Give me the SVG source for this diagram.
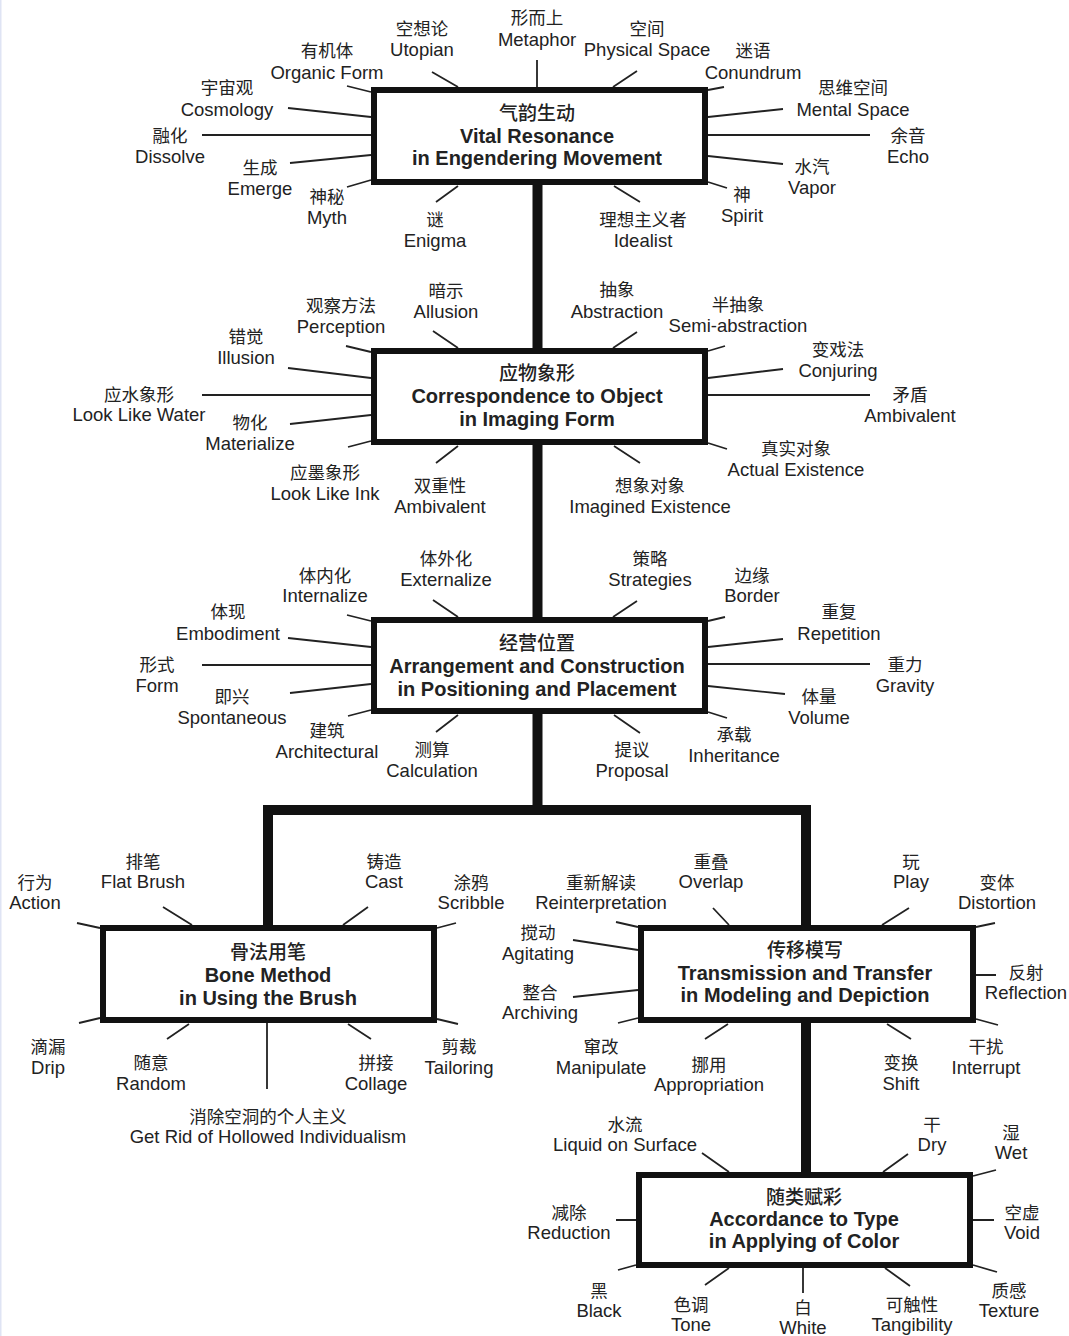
<svg xmlns="http://www.w3.org/2000/svg" width="1069" height="1336" viewBox="0 0 1069 1336">
<style>
text { font-family: "Liberation Sans", "Noto Sans CJK SC", sans-serif; fill: #222; text-anchor: middle; }
.cn { font-size: 17.5px; }
.en { font-size: 18.5px; }
.tc { font-size: 19px; font-weight: 500; }
.te { font-size: 20px; font-weight: bold; }
.box { fill: #fff; stroke: #111; stroke-width: 6; }
.trunk { fill: none; stroke: #111; stroke-width: 10; stroke-linejoin: miter; }
.sp { stroke: #222; stroke-width: 1.8; fill: none; }
</style>
<rect width="1069" height="1336" fill="#fff"/>
<rect x="0" y="0" width="1.5" height="1336" fill="#dfe4f4"/>
<g id="connectors">
<path class="trunk" d="M537.5 185 V810 M268 928 V810 H806 V928 M806 1020 V1175"/>
<g class="sp">
<path d="M537 60 L537 87 M432 72 L458 87 M347 86 L371 92 M637 71 L613 87 M724 87 L708 90 M288 108 L371 117 M202 135 L371 135 M290 163 L371 155 M347 187 L371 180 M436 202 L458 186 M640 202 L614 186 M727 188 L708 182 M783 109 L708 117 M708 135 L870 135 M708 156 L783 164"/>
<path d="M433 331 L458 348 M346 346 L371 352 M637 332 L613 348 M725 346 L708 351 M288 368 L371 378 M202 395 L371 395 M290 424 L371 415 M348 447 L371 441 M436 463 L458 446 M640 463 L614 446 M727 449 L708 443 M783 369 L708 378 M708 395 L870 395"/>
<path d="M433 600 L458 617 M347 615 L371 621 M637 601 L613 617 M725 617 L708 621 M288 638 L371 647 M202 665 L371 665 M290 693 L371 684 M348 716 L371 710 M436 732 L458 715 M640 733 L614 715 M727 718 L708 712 M783 639 L708 647 M708 664 L870 664 M708 686 L785 694"/>
<path d="M77 923 L100 928 M163 907 L192 925 M368 907 L343 925 M456 923 L437 928 M79 1023 L100 1018 M167 1039 L189 1024 M371 1039 L348 1024 M458 1024 L437 1019 M267 1023 L267 1089"/>
<path d="M616 922 L638 927 M713 908 L729 925 M573 940 L638 950 M573 997 L638 990 M618 1023 L638 1018 M705 1039 L728 1024 M909 908 L882 925 M995 923 L976 927 M976 975 L996 975 M976 1019 L998 1025 M887 1024 L911 1039"/>
<path d="M702 1153 L729 1172 M908 1154 L883 1172 M996 1170 L973 1176 M616 1220 L636 1220 M973 1220 L994 1220 M618 1270 L636 1265 M705 1285 L729 1268 M803 1268 L803 1293 M910 1286 L885 1268 M997 1272 L973 1265"/>
</g>
</g>

<g id="box1">
<rect class="box" x="374" y="90" width="331" height="92"/>
<text class="tc" x="537" y="120">气韵生动</text>
<text class="te" x="537" y="143">Vital Resonance</text>
<text class="te" x="537" y="165">in Engendering Movement</text>
</g>
<g id="box2">
<rect class="box" x="374" y="351" width="331" height="91"/>
<text class="tc" x="537" y="380">应物象形</text>
<text class="te" x="537" y="403">Correspondence to Object</text>
<text class="te" x="537" y="426">in Imaging Form</text>
</g>
<g id="box3">
<rect class="box" x="374" y="620" width="331" height="91"/>
<text class="tc" x="537" y="650">经营位置</text>
<text class="te" x="537" y="673">Arrangement and Construction</text>
<text class="te" x="537" y="696">in Positioning and Placement</text>
</g>
<g id="box4">
<rect class="box" x="103" y="928" width="331" height="92"/>
<text class="tc" x="268" y="959">骨法用笔</text>
<text class="te" x="268" y="982">Bone Method</text>
<text class="te" x="268" y="1005">in Using the Brush</text>
</g>
<g id="box5">
<rect class="box" x="641" y="928" width="332" height="92"/>
<text class="tc" x="805" y="957">传移模写</text>
<text class="te" x="805" y="980">Transmission and Transfer</text>
<text class="te" x="805" y="1002">in Modeling and Depiction</text>
</g>
<g id="box6">
<rect class="box" x="639" y="1175" width="331" height="90"/>
<text class="tc" x="804" y="1204">随类赋彩</text>
<text class="te" x="804" y="1226">Accordance to Type</text>
<text class="te" x="804" y="1248">in Applying of Color</text>
</g>

<g id="l-metaphor"><text class="cn" x="537" y="24">形而上</text><text class="en" x="537" y="46">Metaphor</text></g>
<g id="l-utopian"><text class="cn" x="422" y="35">空想论</text><text class="en" x="422" y="56">Utopian</text></g>
<g id="l-organic"><text class="cn" x="327" y="57">有机体</text><text class="en" x="327" y="79">Organic Form</text></g>
<g id="l-physical"><text class="cn" x="647" y="35">空间</text><text class="en" x="647" y="56">Physical Space</text></g>
<g id="l-conundrum"><text class="cn" x="753" y="57">迷语</text><text class="en" x="753" y="79">Conundrum</text></g>
<g id="l-cosmology"><text class="cn" x="227" y="94">宇宙观</text><text class="en" x="227" y="116">Cosmology</text></g>
<g id="l-dissolve"><text class="cn" x="170" y="142">融化</text><text class="en" x="170" y="163">Dissolve</text></g>
<g id="l-emerge"><text class="cn" x="260" y="174">生成</text><text class="en" x="260" y="195">Emerge</text></g>
<g id="l-myth"><text class="cn" x="327" y="203">神秘</text><text class="en" x="327" y="224">Myth</text></g>
<g id="l-enigma"><text class="cn" x="435" y="226">谜</text><text class="en" x="435" y="247">Enigma</text></g>
<g id="l-idealist"><text class="cn" x="643" y="226">理想主义者</text><text class="en" x="643" y="247">Idealist</text></g>
<g id="l-spirit"><text class="cn" x="742" y="201">神</text><text class="en" x="742" y="222">Spirit</text></g>
<g id="l-mental"><text class="cn" x="853" y="94">思维空间</text><text class="en" x="853" y="116">Mental Space</text></g>
<g id="l-echo"><text class="cn" x="908" y="142">余音</text><text class="en" x="908" y="163">Echo</text></g>
<g id="l-vapor"><text class="cn" x="812" y="173">水汽</text><text class="en" x="812" y="194">Vapor</text></g>

<g id="l-allusion"><text class="cn" x="446" y="297">暗示</text><text class="en" x="446" y="318">Allusion</text></g>
<g id="l-perception"><text class="cn" x="341" y="312">观察方法</text><text class="en" x="341" y="333">Perception</text></g>
<g id="l-abstraction"><text class="cn" x="617" y="296">抽象</text><text class="en" x="617" y="318">Abstraction</text></g>
<g id="l-semi"><text class="cn" x="738" y="311">半抽象</text><text class="en" x="738" y="332">Semi-abstraction</text></g>
<g id="l-illusion"><text class="cn" x="246" y="343">错觉</text><text class="en" x="246" y="364">Illusion</text></g>
<g id="l-water"><text class="cn" x="139" y="401">应水象形</text><text class="en" x="139" y="421">Look Like Water</text></g>
<g id="l-materialize"><text class="cn" x="250" y="429">物化</text><text class="en" x="250" y="450">Materialize</text></g>
<g id="l-ink"><text class="cn" x="325" y="479">应墨象形</text><text class="en" x="325" y="500">Look Like Ink</text></g>
<g id="l-ambivalent1"><text class="cn" x="440" y="492">双重性</text><text class="en" x="440" y="513">Ambivalent</text></g>
<g id="l-imagined"><text class="cn" x="650" y="492">想象对象</text><text class="en" x="650" y="513">Imagined Existence</text></g>
<g id="l-actual"><text class="cn" x="796" y="455">真实对象</text><text class="en" x="796" y="476">Actual Existence</text></g>
<g id="l-conjuring"><text class="cn" x="838" y="356">变戏法</text><text class="en" x="838" y="377">Conjuring</text></g>
<g id="l-ambivalent2"><text class="cn" x="910" y="401">矛盾</text><text class="en" x="910" y="422">Ambivalent</text></g>

<g id="l-externalize"><text class="cn" x="446" y="565">体外化</text><text class="en" x="446" y="586">Externalize</text></g>
<g id="l-internalize"><text class="cn" x="325" y="582">体内化</text><text class="en" x="325" y="602">Internalize</text></g>
<g id="l-strategies"><text class="cn" x="650" y="565">策略</text><text class="en" x="650" y="586">Strategies</text></g>
<g id="l-border"><text class="cn" x="752" y="582">边缘</text><text class="en" x="752" y="602">Border</text></g>
<g id="l-embodiment"><text class="cn" x="228" y="618">体现</text><text class="en" x="228" y="640">Embodiment</text></g>
<g id="l-form"><text class="cn" x="157" y="671">形式</text><text class="en" x="157" y="692">Form</text></g>
<g id="l-spontaneous"><text class="cn" x="232" y="703">即兴</text><text class="en" x="232" y="724">Spontaneous</text></g>
<g id="l-architectural"><text class="cn" x="327" y="737">建筑</text><text class="en" x="327" y="758">Architectural</text></g>
<g id="l-calculation"><text class="cn" x="432" y="756">测算</text><text class="en" x="432" y="777">Calculation</text></g>
<g id="l-proposal"><text class="cn" x="632" y="756">提议</text><text class="en" x="632" y="777">Proposal</text></g>
<g id="l-inheritance"><text class="cn" x="734" y="741">承载</text><text class="en" x="734" y="762">Inheritance</text></g>
<g id="l-repetition"><text class="cn" x="839" y="618">重复</text><text class="en" x="839" y="640">Repetition</text></g>
<g id="l-gravity"><text class="cn" x="905" y="671">重力</text><text class="en" x="905" y="692">Gravity</text></g>
<g id="l-volume"><text class="cn" x="819" y="703">体量</text><text class="en" x="819" y="724">Volume</text></g>

<g id="l-action"><text class="cn" x="35" y="889">行为</text><text class="en" x="35" y="909">Action</text></g>
<g id="l-flatbrush"><text class="cn" x="143" y="868">排笔</text><text class="en" x="143" y="888">Flat Brush</text></g>
<g id="l-cast"><text class="cn" x="384" y="868">铸造</text><text class="en" x="384" y="888">Cast</text></g>
<g id="l-scribble"><text class="cn" x="471" y="889">涂鸦</text><text class="en" x="471" y="909">Scribble</text></g>
<g id="l-drip"><text class="cn" x="48" y="1053">滴漏</text><text class="en" x="48" y="1074">Drip</text></g>
<g id="l-random"><text class="cn" x="151" y="1069">随意</text><text class="en" x="151" y="1090">Random</text></g>
<g id="l-collage"><text class="cn" x="376" y="1069">拼接</text><text class="en" x="376" y="1090">Collage</text></g>
<g id="l-tailoring"><text class="cn" x="459" y="1053">剪裁</text><text class="en" x="459" y="1074">Tailoring</text></g>
<g id="l-hollowed"><text class="cn" x="268" y="1123">消除空洞的个人主义</text><text class="en" x="268" y="1143">Get Rid of Hollowed Individualism</text></g>

<g id="l-reinterpretation"><text class="cn" x="601" y="889">重新解读</text><text class="en" x="601" y="909">Reinterpretation</text></g>
<g id="l-overlap"><text class="cn" x="711" y="868">重叠</text><text class="en" x="711" y="888">Overlap</text></g>
<g id="l-agitating"><text class="cn" x="538" y="939">搅动</text><text class="en" x="538" y="960">Agitating</text></g>
<g id="l-archiving"><text class="cn" x="540" y="999">整合</text><text class="en" x="540" y="1019">Archiving</text></g>
<g id="l-manipulate"><text class="cn" x="601" y="1053">窜改</text><text class="en" x="601" y="1074">Manipulate</text></g>
<g id="l-appropriation"><text class="cn" x="709" y="1071">挪用</text><text class="en" x="709" y="1091">Appropriation</text></g>
<g id="l-play"><text class="cn" x="911" y="868">玩</text><text class="en" x="911" y="888">Play</text></g>
<g id="l-distortion"><text class="cn" x="997" y="889">变体</text><text class="en" x="997" y="909">Distortion</text></g>
<g id="l-reflection"><text class="cn" x="1026" y="979">反射</text><text class="en" x="1026" y="999">Reflection</text></g>
<g id="l-interrupt"><text class="cn" x="986" y="1053">干扰</text><text class="en" x="986" y="1074">Interrupt</text></g>
<g id="l-shift"><text class="cn" x="901" y="1069">变换</text><text class="en" x="901" y="1090">Shift</text></g>

<g id="l-liquid"><text class="cn" x="625" y="1131">水流</text><text class="en" x="625" y="1151">Liquid on Surface</text></g>
<g id="l-dry"><text class="cn" x="932" y="1131">干</text><text class="en" x="932" y="1151">Dry</text></g>
<g id="l-wet"><text class="cn" x="1011" y="1139">湿</text><text class="en" x="1011" y="1159">Wet</text></g>
<g id="l-reduction"><text class="cn" x="569" y="1219">减除</text><text class="en" x="569" y="1239">Reduction</text></g>
<g id="l-void"><text class="cn" x="1022" y="1219">空虚</text><text class="en" x="1022" y="1239">Void</text></g>
<g id="l-black"><text class="cn" x="599" y="1297">黑</text><text class="en" x="599" y="1317">Black</text></g>
<g id="l-tone"><text class="cn" x="691" y="1311">色调</text><text class="en" x="691" y="1331">Tone</text></g>
<g id="l-white"><text class="cn" x="803" y="1314">白</text><text class="en" x="803" y="1334">White</text></g>
<g id="l-tangibility"><text class="cn" x="912" y="1311">可触性</text><text class="en" x="912" y="1331">Tangibility</text></g>
<g id="l-texture"><text class="cn" x="1009" y="1297">质感</text><text class="en" x="1009" y="1317">Texture</text></g>
</svg>
